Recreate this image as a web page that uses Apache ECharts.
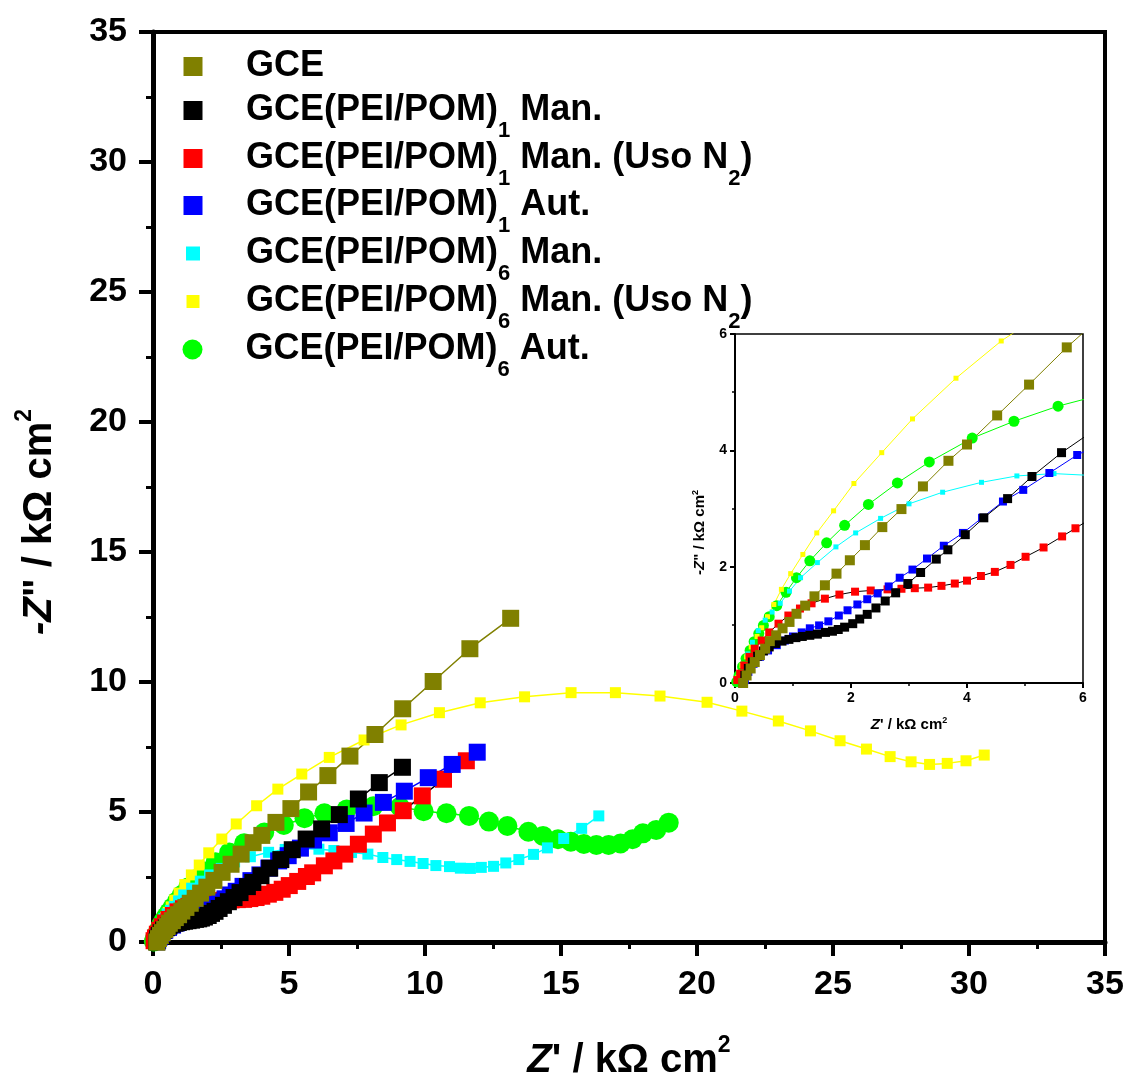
<!DOCTYPE html>
<html>
<head>
<meta charset="utf-8">
<script src="https://cdn.jsdelivr.net/npm/echarts@6/dist/echarts.min.js"></script>
<style>
  html, body { margin: 0; padding: 0; background: #fff; }
  #chart { width: 1127px; height: 1075px; }
</style>
</head>
<body>
<div id="chart"></div>
<script>
// Nyquist data, [Z' , -Z''] in kOhm cm2
const gce = [[0.14,0],[0.2,0.13],[0.27,0.25],[0.34,0.36],[0.43,0.48],[0.52,0.59],[0.6,0.72],[0.71,0.82],[0.82,0.94],[0.94,1.05],[1.06,1.19],[1.21,1.33],[1.37,1.49],[1.55,1.68],[1.75,1.88],[1.98,2.11],[2.24,2.37],[2.54,2.68],[2.87,2.99],[3.24,3.38],[3.68,3.82],[4.0,4.1],[4.52,4.6],[5.07,5.13],[5.72,5.77],[6.43,6.4],[7.24,7.15],[8.16,7.98],[9.18,8.97],[10.3,10.02],[11.65,11.28],[13.15,12.45]]
const man1 = [[0.14,0],[0.17,0.13],[0.23,0.25],[0.3,0.36],[0.39,0.46],[0.49,0.55],[0.59,0.62],[0.7,0.68],[0.81,0.72],[0.93,0.75],[1.05,0.78],[1.16,0.8],[1.29,0.82],[1.42,0.84],[1.56,0.87],[1.68,0.89],[1.78,0.92],[1.89,0.96],[2.03,1.02],[2.15,1.1],[2.28,1.18],[2.43,1.29],[2.59,1.41],[2.77,1.55],[2.98,1.71],[3.2,1.9],[3.47,2.13],[3.67,2.29],[3.97,2.55],[4.29,2.84],[4.7,3.17],[5.12,3.55],[5.63,3.96],[6.2,4.35],[6.85,4.9],[7.55,5.5],[8.32,6.13],[9.17,6.72]]
const man1N2 = [[0.04,0.05],[0.09,0.16],[0.16,0.3],[0.25,0.45],[0.34,0.59],[0.46,0.73],[0.59,0.87],[0.75,1.02],[0.92,1.16],[1.12,1.28],[1.32,1.37],[1.55,1.45],[1.8,1.52],[2.07,1.57],[2.34,1.59],[2.63,1.61],[2.87,1.62],[3.1,1.63],[3.33,1.64],[3.56,1.67],[3.79,1.71],[4.0,1.76],[4.24,1.84],[4.48,1.91],[4.75,2.03],[5.01,2.17],[5.32,2.33],[5.64,2.52],[5.87,2.66],[6.3,2.93],[6.65,3.12],[7.05,3.38],[7.55,3.76],[8.1,4.15],[8.62,4.58],[9.2,5.05],[9.9,5.62],[10.68,6.26],[11.52,6.97]]
const aut1 = [[0.17,0.05],[0.23,0.19],[0.32,0.33],[0.43,0.45],[0.57,0.56],[0.72,0.65],[0.86,0.73],[1.0,0.8],[1.15,0.87],[1.29,0.94],[1.45,0.99],[1.61,1.06],[1.79,1.16],[1.94,1.25],[2.11,1.35],[2.28,1.44],[2.46,1.54],[2.65,1.66],[2.84,1.81],[3.06,1.95],[3.31,2.14],[3.6,2.36],[3.93,2.58],[4.26,2.84],[4.62,3.12],[4.97,3.32],[5.42,3.61],[5.9,3.92],[6.48,4.2],[7.1,4.56],[7.76,4.96],[8.47,5.37],[9.24,5.8],[10.12,6.32],[11.0,6.83],[11.92,7.3]]
const man6 = [[0.1,0.1],[0.15,0.3],[0.22,0.5],[0.3,0.7],[0.4,0.9],[0.52,1.08],[0.64,1.22],[0.78,1.37],[0.94,1.58],[1.13,1.81],[1.42,2.07],[1.74,2.34],[2.08,2.58],[2.51,2.83],[3.0,3.08],[3.58,3.28],[4.25,3.45],[4.86,3.56],[5.5,3.6],[6.1,3.57],[6.65,3.52],[7.3,3.44],[7.9,3.38],[8.45,3.25],[8.96,3.17],[9.45,3.1],[9.93,3.02],[10.4,2.94],[10.9,2.9],[11.3,2.84],[11.67,2.83],[12.07,2.87],[12.52,2.91],[12.97,3.04],[13.45,3.17],[13.99,3.37],[14.5,3.62],[15.1,3.98],[15.76,4.37],[16.39,4.85]]
const man6N2 = [[0.05,0.1],[0.12,0.3],[0.2,0.45],[0.28,0.62],[0.38,0.8],[0.46,0.95],[0.56,1.14],[0.67,1.35],[0.8,1.61],[0.96,1.88],[1.17,2.21],[1.41,2.58],[1.7,2.96],[2.05,3.43],[2.53,3.96],[3.06,4.54],[3.81,5.24],[4.59,5.88],[5.47,6.46],[6.48,7.1],[7.76,7.77],[9.12,8.35],[10.53,8.82],[12.03,9.2],[13.66,9.43],[15.37,9.59],[17.0,9.59],[18.64,9.46],[20.37,9.22],[21.65,8.88],[22.99,8.5],[24.17,8.12],[25.26,7.74],[26.23,7.42],[27.1,7.13],[27.87,6.93],[28.55,6.83],[29.2,6.87],[29.89,6.97],[30.56,7.19]]
const aut6 = [[0.03,0.02],[0.07,0.13],[0.13,0.28],[0.19,0.42],[0.26,0.56],[0.33,0.71],[0.41,0.85],[0.49,0.99],[0.59,1.14],[0.72,1.33],[0.88,1.56],[1.06,1.81],[1.29,2.1],[1.58,2.41],[1.89,2.71],[2.3,3.07],[2.8,3.44],[3.35,3.8],[4.09,4.21],[4.81,4.5],[5.57,4.76],[6.3,4.95],[7.12,5.1],[8.1,5.22],[9.08,5.2],[9.95,5.03],[10.79,4.95],[11.62,4.85],[12.35,4.63],[13.03,4.46],[13.8,4.24],[14.34,4.08],[14.89,3.95],[15.36,3.86],[15.84,3.77],[16.3,3.73],[16.75,3.73],[17.19,3.79],[17.63,3.95],[18.01,4.18],[18.5,4.31],[18.96,4.59]]

const names = ['GCE', 'GCE(PEI/POM)1 Man.', 'GCE(PEI/POM)1 Man. (Uso N2)', 'GCE(PEI/POM)1 Aut.',
  'GCE(PEI/POM)6 Man.', 'GCE(PEI/POM)6 Man. (Uso N2)', 'GCE(PEI/POM)6 Aut.']
const legendLabels = [
  '{a|GCE}',
  '{a|GCE(PEI/POM)}{s|1}{a| Man.}',
  '{a|GCE(PEI/POM)}{s|1}{a| Man. (Uso N}{s|2}{a|)}',
  '{a|GCE(PEI/POM)}{s|1}{a| Aut.}',
  '{a|GCE(PEI/POM)}{s|6}{a| Man.}',
  '{a|GCE(PEI/POM)}{s|6}{a| Man. (Uso N}{s|2}{a|)}',
  '{a|GCE(PEI/POM)}{s|6}{a| Aut.}'
]
const legendCenters = [64, 108, 156, 203, 251, 299, 347]

// drawing order bottom -> top; idx points into names
const defs = [
  { idx: 6, data: aut6,   color: '#00ff00', line: '#00ff00', symbol: 'circle', main: 20, inset: 11, leg: 21 },
  { idx: 5, data: man6N2, color: '#ffff00', line: '#ffff00', symbol: 'rect',   main: 11, inset: 5,  leg: 13 },
  { idx: 4, data: man6,   color: '#00ffff', line: '#00ffff', symbol: 'rect',   main: 11, inset: 5,  leg: 14 },
  { idx: 2, data: man1N2, color: '#ff0000', line: '#000000', symbol: 'rect',   main: 17, inset: 8,  leg: 19 },
  { idx: 3, data: aut1,   color: '#0000ff', line: '#0000ff', symbol: 'rect',   main: 17, inset: 8,  leg: 19 },
  { idx: 1, data: man1,   color: '#000000', line: '#000000', symbol: 'rect',   main: 17, inset: 9,  leg: 19 },
  { idx: 0, data: gce,    color: '#808000', line: '#808000', symbol: 'rect',   main: 17, inset: 10, leg: 19 }
]

const FONT = "'Liberation Sans', Arial, sans-serif"

const series = []
defs.forEach(d => {
  series.push({
    name: names[d.idx], type: 'line', xAxisIndex: 0, yAxisIndex: 0,
    data: d.data, symbol: d.symbol, symbolSize: d.main,
    itemStyle: { color: d.color }, lineStyle: { color: d.line, width: 1.5 }
  })
})
defs.forEach(d => {
  series.push({
    name: names[d.idx], type: 'line', xAxisIndex: 1, yAxisIndex: 1,
    data: d.data, symbol: d.symbol, symbolSize: d.inset, clip: true,
    itemStyle: { color: d.color }, lineStyle: { color: d.line, width: 1 }
  })
})

const legends = defs.map(d => {
  const w = d.leg
  return {
    data: [{ name: names[d.idx], icon: d.symbol }],
    left: 193 - w / 2,
    top: legendCenters[d.idx] - 15.5,
    padding: 0,
    itemWidth: w, itemHeight: d.symbol === 'circle' ? w - 1 : w,
    selectedMode: false,
    formatter: () => legendLabels[d.idx],
    textStyle: {
      padding: [0, 0, 0, 48 - w / 2],
      rich: {
        a: { fontSize: 36, fontWeight: 'bold', fontFamily: FONT, color: '#000', lineHeight: 62 },
        s: { fontSize: 22, fontWeight: 'bold', fontFamily: FONT, color: '#000', lineHeight: 6, verticalAlign: 'bottom' }
      }
    }
  }
})

function axisName(size, line, sup, supLine) {
  return {
    n: { fontSize: size, fontWeight: 'bold', fontFamily: FONT, color: '#000', lineHeight: line },
    i: { fontSize: size, fontWeight: 'bold', fontStyle: 'italic', fontFamily: FONT, color: '#000', lineHeight: line },
    p: { fontSize: sup, fontWeight: 'bold', fontFamily: FONT, color: '#000', lineHeight: supLine, verticalAlign: 'top' }
  }
}

const option = {
  animation: false,
  backgroundColor: '#fff',
  legend: legends,
  grid: [
    { left: 153, top: 32, width: 952, height: 910, outerBoundsMode: 'none', containLabel: false,
      show: true, borderColor: '#000', borderWidth: 4, backgroundColor: 'transparent' },
    { left: 735, top: 334, width: 348, height: 349, outerBoundsMode: 'none', containLabel: false,
      show: true, borderColor: '#000', borderWidth: 1.5, backgroundColor: 'transparent' }
  ],
  xAxis: [
    {
      gridIndex: 0, type: 'value', min: 0, max: 35, interval: 5,
      axisLine: { lineStyle: { color: '#000', width: 5 } },
      axisTick: { inside: false, length: 14, lineStyle: { width: 4, color: '#000' } },
      minorTick: { show: true, splitNumber: 2, length: 7, lineStyle: { width: 3, color: '#000' } },
      splitLine: { show: false },
      axisLabel: { fontSize: 34, fontWeight: 'bold', fontFamily: FONT, color: '#000', margin: 26 },
      name: '{i|Z}{n|\' / k\u03A9 cm}{p|2}', nameLocation: 'middle', nameGap: 92,
      nameTextStyle: { rich: axisName(40, 53, 23, 10) }
    },
    {
      gridIndex: 1, type: 'value', min: 0, max: 6, interval: 2,
      axisLine: { lineStyle: { color: '#000', width: 2 } },
      axisTick: { inside: false, length: 5, lineStyle: { width: 2, color: '#000' } },
      minorTick: { show: true, splitNumber: 2, length: 3, lineStyle: { width: 1.5, color: '#000' } },
      splitLine: { show: false },
      axisLabel: { fontSize: 14, fontWeight: 'bold', fontFamily: FONT, color: '#000', margin: 8 },
      name: '{i|Z}{n|\' / k\u03A9 cm}{p|2}', nameLocation: 'middle', nameGap: 33,
      nameTextStyle: { rich: axisName(15, 18, 9, 4) }
    }
  ],
  yAxis: [
    {
      gridIndex: 0, type: 'value', min: 0, max: 35, interval: 5,
      axisLine: { lineStyle: { color: '#000', width: 5 } },
      axisTick: { inside: false, length: 14, lineStyle: { width: 4, color: '#000' } },
      minorTick: { show: true, splitNumber: 2, length: 7, lineStyle: { width: 3, color: '#000' } },
      splitLine: { show: false },
      axisLabel: { fontSize: 34, fontWeight: 'bold', fontFamily: FONT, color: '#000', margin: 26 },
      name: '{i|-Z}{n|" / k\u03A9 cm}{p|2}', nameLocation: 'middle', nameGap: 87, nameRotate: 90,
      nameTextStyle: { padding: [0, 70, 0, 0], rich: axisName(40, 53, 23, 10) }
    },
    {
      gridIndex: 1, type: 'value', min: 0, max: 6, interval: 2,
      axisLine: { lineStyle: { color: '#000', width: 2 } },
      axisTick: { inside: false, length: 5, lineStyle: { width: 2, color: '#000' } },
      minorTick: { show: true, splitNumber: 2, length: 3, lineStyle: { width: 1.5, color: '#000' } },
      splitLine: { show: false },
      axisLabel: { fontSize: 14, fontWeight: 'bold', fontFamily: FONT, color: '#000', margin: 8 },
      name: '{i|-Z}{n|" / k\u03A9 cm}{p|2}', nameLocation: 'middle', nameGap: 26, nameRotate: 90,
      nameTextStyle: { padding: [0, 48, 0, 0], rich: axisName(15, 18, 9, 4) }
    }
  ],
  series: series
}

const chart = echarts.init(document.getElementById('chart'), null, { renderer: 'canvas' })
chart.setOption(option)
</script>
</body>
</html>
